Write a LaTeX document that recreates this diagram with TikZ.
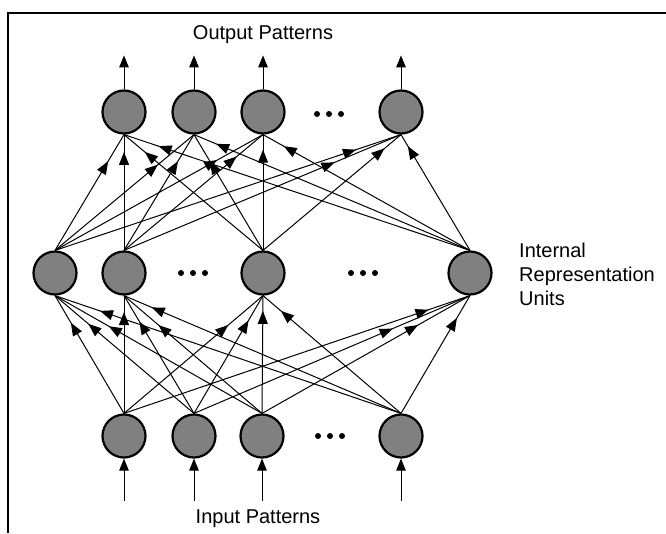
\documentclass[tikz,border=0pt]{standalone}
\usepackage{fontspec}
\setmainfont{Liberation Sans}
\usetikzlibrary{arrows.meta,decorations.markings,calc}
\definecolor{unitgray}{RGB}{128,128,128}
\tikzset{
  unit/.style={circle, draw=black, line width=2.2pt, fill=unitgray,
    minimum size=43pt, inner sep=0pt},
  conn/.style={line width=1pt, draw=black},
  tipshape/.tip={Triangle[length=13pt,width=10pt]},
  iolink/.style={line width=1pt, -{Triangle[length=12pt,width=9.5pt]}},
  label/.style={font=\fontsize{20pt}{24pt}\selectfont, inner sep=0pt},
  frame/.style={line width=2pt}
}
\newcommand{\tripledots}[2]{%
  \foreach \d in {-12,0,12} \fill (#1+\d,#2) circle (3pt);}
\begin{document}
\begin{tikzpicture}[x=1pt,y=-1pt]
  \useasboundingbox (0,0) rectangle (666,533);
  % frame edges
  \draw[frame] (666,13) -- (8,13) -- (8,533);

  % output layer
  \node[unit] (o1) at (124,112) {};
  \node[unit] (o2) at (194,112) {};
  \node[unit] (o3) at (263,112) {};
  \node[unit] (o4) at (401,112) {};
  \tripledots{329}{114}

  % hidden layer
  \node[unit] (h1) at (55,273) {};
  \node[unit] (h2) at (124,273) {};
  \node[unit] (h3) at (263,273) {};
  \node[unit] (h4) at (470,273) {};
  \tripledots{193}{273}
  \tripledots{363}{273}

  % input layer
  \node[unit] (i1) at (124,436) {};
  \node[unit] (i2) at (194,436) {};
  \node[unit] (i3) at (262,436) {};
  \node[unit] (i4) at (401,436) {};
  \tripledots{330}{436}

  % labels
  \node[label] (outlbl) at (263,35) {Output Patterns};
  \node[label] (inlbl) at (258,519) {Input Patterns};
  \node[label, anchor=west, align=left] (hidlbl) at (519,274)
    {Internal\\Representation\\Units};

  % output arrows and input arrows
  \foreach \n in {1,2,3,4} {
    \coordinate (otop\n) at ($(o\n.north)+(0,-34)$);
    \coordinate (ibot\n) at ($(i\n.south)+(0,42)$);
  }
  \foreach \n in {1,2,3,4} {
    \draw[iolink] (o\n.north) -- (otop\n);
    \draw[iolink] (ibot\n) -- (i\n.south);
  }

  % input -> hidden connections (with arrowhead position along each line)
  \foreach \s/\t/\p in {
      i1/h1/0.77, i2/h1/0.76, i3/h1/0.74, i4/h1/0.87,
      i1/h2/0.86, i2/h2/0.78, i3/h2/0.75, i4/h2/0.90,
      i1/h3/0.75, i2/h3/0.79, i3/h3/0.87, i4/h3/0.87,
      i1/h4/0.88, i2/h4/0.72, i3/h4/0.75, i4/h4/0.81} {
    \draw[conn, postaction={decorate, decoration={markings,
        mark=at position \p with {\arrow{tipshape}}}}]
      (\s.north) -- (\t.south);
  }

  % hidden -> output connections
  \foreach \s/\t/\p in {
      h1/o1/0.77, h2/o1/0.85, h3/o1/0.85, h4/o1/0.90,
      h1/o2/0.74, h2/o2/0.77, h3/o2/0.77, h4/o2/0.92,
      h1/o3/0.78, h2/o3/0.81, h3/o3/0.87, h4/o3/0.90,
      h1/o4/0.87, h2/o4/0.76, h3/o4/0.88, h4/o4/0.90} {
    \draw[conn, postaction={decorate, decoration={markings,
        mark=at position \p with {\arrow{tipshape}}}}]
      (\s.north) -- (\t.south);
  }
\end{tikzpicture}
\end{document}
